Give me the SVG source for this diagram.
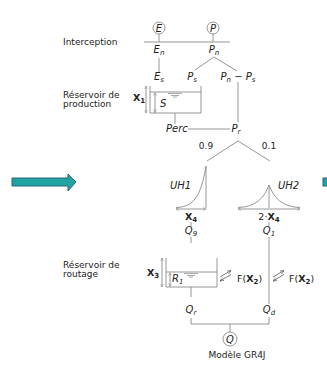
<svg xmlns="http://www.w3.org/2000/svg" width="327" height="365" viewBox="0 0 327 365">
<defs>
<style>
.ln{stroke:#8a8a8a;stroke-width:0.9;fill:none}
.lbl{font-family:"DejaVu Sans",sans-serif;font-size:9px;fill:#222}
.m{font-family:"DejaVu Sans",sans-serif;font-size:10px;font-style:italic;fill:#222}
.b{font-family:"DejaVu Sans",sans-serif;font-size:9.5px;fill:#222}
.bold{font-weight:bold}
.sub{font-size:7px}
.wat{stroke:#aaa;stroke-width:1;fill:none}
.fa{stroke:#555;stroke-width:0.8;fill:none}
</style>
<marker id="ah" viewBox="0 0 6 6" refX="6" refY="3" markerWidth="3.5" markerHeight="3.5" orient="auto-start-reverse">
<path d="M0,0 L6,3 L0,6" fill="none" stroke="#888" stroke-width="1"/>
</marker>
<marker id="ah2" viewBox="0 0 6 6" refX="6" refY="3" markerWidth="5" markerHeight="5" orient="auto">
<path d="M0,0.5 L6,3 L0,5.5" fill="none" stroke="#555" stroke-width="0.9"/>
</marker>
</defs>
<rect width="327" height="365" fill="#fff"/>

<g id="left-arrow">
<path d="M12,178 L68,178 L68,174 L76,182 L68,191 L68,186 L12,186 Z" fill="#1fa3a3" stroke="#2a6677" stroke-width="1"/>
</g>
<g id="right-arrow-stub">
<rect x="323" y="178" width="5" height="8" fill="#1fa3a3" stroke="#2a6677" stroke-width="1"/>
</g>

<g id="labels-left">
<text class="lbl" x="63" y="45">Interception</text>
<text class="lbl" x="63" y="98">Réservoir de</text>
<text class="lbl" x="63" y="107">production</text>
<text class="lbl" x="63" y="268">Réservoir de</text>
<text class="lbl" x="63" y="277">routage</text>
</g>

<g id="connectors">
<line class="ln" x1="159" y1="34" x2="159" y2="42"/>
<line class="ln" x1="213" y1="34" x2="213" y2="42"/>
<line class="ln" x1="144" y1="42" x2="230" y2="42"/>
<line class="ln" x1="159" y1="58" x2="159" y2="72"/>
<polyline class="ln" points="195,70 214,57 237,71"/>
<line class="ln" x1="238" y1="82" x2="238" y2="122"/>
<line class="ln" x1="175" y1="113" x2="175" y2="124"/>
<line class="ln" x1="188" y1="129" x2="230" y2="129"/>
<polyline class="ln" points="207,161 238,141 270,161"/>
<line class="ln" x1="191" y1="222" x2="191" y2="226"/>
<line class="ln" x1="191" y1="237" x2="191" y2="243"/>
<line class="ln" x1="269" y1="222" x2="269" y2="226"/>
<line class="ln" x1="269" y1="237" x2="269" y2="304"/>
<line class="ln" x1="191" y1="287" x2="191" y2="297"/>
<polyline class="ln" points="191,318 191,324 269,324 269,317"/>
<line class="ln" x1="230" y1="324" x2="230" y2="332"/>
</g>

<g id="node-E">
<circle class="ln" cx="159" cy="28" r="6"/>
<text class="m" x="159" y="31.5" text-anchor="middle" font-size="9">E</text>
</g>
<g id="node-P">
<circle class="ln" cx="213" cy="28" r="6"/>
<text class="m" x="213" y="31.5" text-anchor="middle" font-size="9">P</text>
</g>
<g id="node-En"><text class="m" x="159" y="53" text-anchor="middle">E<tspan class="sub" dy="2">n</tspan></text></g>
<g id="node-Pn"><text class="m" x="214" y="53" text-anchor="middle">P<tspan class="sub" dy="2">n</tspan></text></g>
<g id="node-Es"><text class="m" x="159" y="80" text-anchor="middle">E<tspan class="sub" dy="2">s</tspan></text></g>
<g id="node-Ps"><text class="m" x="192" y="80" text-anchor="middle">P<tspan class="sub" dy="2">s</tspan></text></g>
<g id="node-PnPs"><text class="m" x="238" y="80" text-anchor="middle">P<tspan class="sub" dy="2">n</tspan><tspan dy="-2" font-style="normal"> − </tspan>P<tspan class="sub" dy="2">s</tspan></text></g>

<g id="node-production">
<polyline class="ln" points="150,86 150,113 201,113 201,86"/>
<line class="ln" x1="150" y1="92" x2="201" y2="92"/>
<line class="ln" x1="146" y1="86" x2="146" y2="113" marker-start="url(#ah)" marker-end="url(#ah)"/>
<line class="ln" x1="155" y1="92.5" x2="155" y2="112.5" marker-start="url(#ah)" marker-end="url(#ah)"/>
<line class="wat" x1="168" y1="93.5" x2="182" y2="93.5"/>
<line class="wat" x1="171" y1="95.5" x2="179" y2="95.5"/>
<line class="wat" x1="173" y1="97" x2="177" y2="97"/>
<text class="m" x="160" y="107">S</text>
<text class="b bold" x="133" y="101">X<tspan class="sub" dy="2">1</tspan></text>
</g>

<g id="node-Perc"><text class="m" x="166" y="132">Perc</text></g>
<g id="node-Pr"><text class="m" x="236" y="132" text-anchor="middle">P<tspan class="sub" dy="2">r</tspan></text></g>
<g id="label-09"><text class="lbl" x="206" y="149" text-anchor="middle">0.9</text></g>
<g id="label-01"><text class="lbl" x="269" y="149" text-anchor="middle">0.1</text></g>

<g id="node-UH1">
<path class="ln" d="M176,207.5 C194,207 201,196 206,166"/>
<line class="ln" x1="206" y1="166" x2="206" y2="208"/>
<line class="ln" x1="176" y1="209" x2="206" y2="209" marker-start="url(#ah)" marker-end="url(#ah)"/>
<text class="m" x="170" y="189">UH1</text>
<text class="b bold" x="191" y="220" text-anchor="middle">X<tspan class="sub" dy="2">4</tspan></text>
<text class="m" x="191" y="234" text-anchor="middle">Q<tspan class="sub" dy="2">9</tspan></text>
</g>

<g id="node-UH2">
<path class="ln" d="M238,207.5 C256,207 264,198 269,185 C274,198 282,207 300,207.5"/>
<line class="ln" x1="269" y1="185" x2="269" y2="208"/>
<line class="ln" x1="238" y1="209" x2="300" y2="209" marker-start="url(#ah)" marker-end="url(#ah)"/>
<text class="m" x="278" y="189">UH2</text>
<text class="b" x="269" y="220" text-anchor="middle">2·<tspan class="bold">X</tspan><tspan class="sub bold" dy="2">4</tspan></text>
<text class="m" x="269" y="234" text-anchor="middle">Q<tspan class="sub" dy="2">1</tspan></text>
</g>

<g id="node-routage">
<polyline class="ln" points="166,258 166,287 217,287 217,258"/>
<line class="ln" x1="166" y1="272" x2="217" y2="272"/>
<line class="ln" x1="162" y1="258" x2="162" y2="287" marker-start="url(#ah)" marker-end="url(#ah)"/>
<line class="ln" x1="170" y1="272.5" x2="170" y2="286.5" marker-start="url(#ah)" marker-end="url(#ah)"/>
<line class="wat" x1="184" y1="273.5" x2="198" y2="273.5"/>
<line class="wat" x1="187" y1="275.5" x2="195" y2="275.5"/>
<line class="wat" x1="189" y1="277" x2="193" y2="277"/>
<text class="m" x="172" y="282">R<tspan class="sub" dy="2">1</tspan></text>
<text class="b bold" x="147" y="276">X<tspan class="sub" dy="2">3</tspan></text>
</g>

<g id="node-F1">
<line class="fa" x1="220" y1="277" x2="231" y2="270.5" marker-end="url(#ah2)"/>
<line class="fa" x1="231" y1="274.5" x2="220" y2="281" marker-end="url(#ah2)"/>
<text class="b" x="237" y="282">F(<tspan class="bold">X</tspan><tspan class="sub bold" dy="2">2</tspan><tspan dy="-2">)</tspan></text>
</g>
<g id="node-F2">
<line class="fa" x1="273" y1="277" x2="284" y2="270.5" marker-end="url(#ah2)"/>
<line class="fa" x1="284" y1="274.5" x2="273" y2="281" marker-end="url(#ah2)"/>
<text class="b" x="289" y="282">F(<tspan class="bold">X</tspan><tspan class="sub bold" dy="2">2</tspan><tspan dy="-2">)</tspan></text>
</g>

<g id="node-Qr"><text class="m" x="191" y="313" text-anchor="middle">Q<tspan class="sub" dy="2">r</tspan></text></g>
<g id="node-Qd"><text class="m" x="269" y="313" text-anchor="middle">Q<tspan class="sub" dy="2">d</tspan></text></g>
<g id="node-Q">
<circle class="ln" cx="230" cy="339" r="7"/>
<text class="m" x="230" y="342.5" text-anchor="middle" font-size="9">Q</text>
</g>
<g id="caption"><text class="lbl" x="237" y="358" text-anchor="middle" font-size="8">Modèle GR4J</text></g>
</svg>
